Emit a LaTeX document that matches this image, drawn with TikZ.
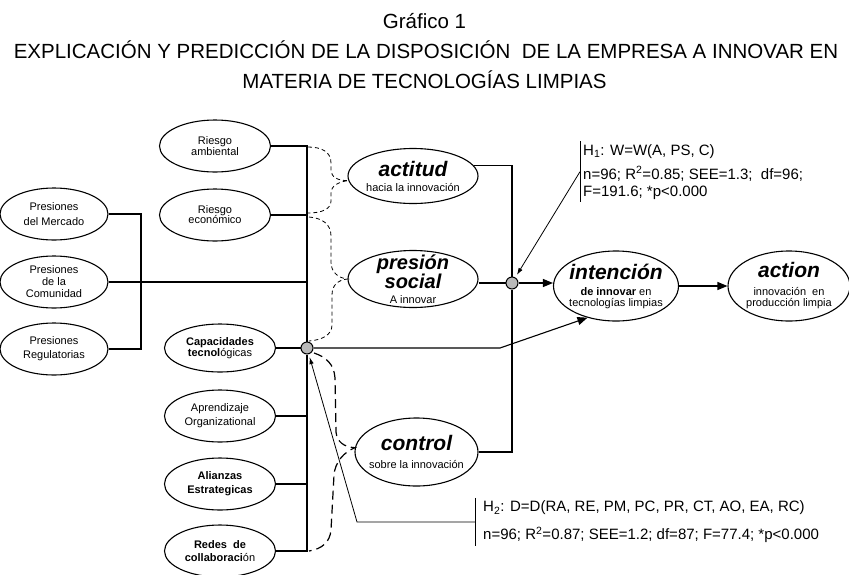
\documentclass[tikz,border=0pt]{standalone}
\usepackage{fontspec}
\setmainfont{Liberation Sans}
\usetikzlibrary{shapes.geometric,arrows.meta}

\newcommand{\concept}[1]{{\fontsize{21}{21}\selectfont\bfseries\itshape #1}}

\tikzset{
  factor/.style={ellipse,draw,line width=1.1pt,inner xsep=-8pt,inner ysep=-8pt,align=center,
    font={\fontsize{11}{12}\selectfont\lineskiplimit=-20pt},minimum width=111pt,minimum height=52pt},
  construct/.style={factor,inner xsep=-20pt,inner ysep=-10pt,minimum width=130pt,minimum height=56pt},
  junction/.style={circle,draw,fill=gray!55,line width=1pt,minimum size=12pt,inner sep=0pt},
  wire/.style={line width=1.1pt},
  flow/.style={->,>={Triangle[length=10pt,width=8pt]},line width=1.1pt},
  link/.style={->,>={Latex[length=7pt,width=4.5pt]},line width=.8pt,shorten >=3pt},
  brace/.style={dash pattern=on 4pt off 3pt,line width=.8pt},
  longbrace/.style={dash pattern=on 9pt off 5pt,line width=1.2pt},
  stats/.style={align=left,inner xsep=3pt,inner ysep=3pt,anchor=north west,
    font={\fontsize{15}{17}\selectfont\lineskiplimit=-20pt}},
  heading/.style={anchor=base,inner sep=0pt,font=\fontsize{20.5}{24}\selectfont},
}

\begin{document}
\begin{tikzpicture}[x=1pt,y=-1pt]
\useasboundingbox (0,0) rectangle (849,574);

% title
\draw(424.5,28) node[heading](t1){Gráfico 1};
\draw(426,58) node[heading](t2){EXPLICACIÓN Y PREDICCIÓN DE LA DISPOSICIÓN\ \ DE LA EMPRESA A INNOVAR EN};
\draw(424.5,88) node[heading](t3){MATERIA DE TECNOLOGÍAS LIMPIAS};

% determinants
\draw(215,146) node[factor](1){Riesgo\\[-1pt]ambiental};
\draw(215,215) node[factor](2){Riesgo\\[-2pt]económico};
\draw(54,214) node[factor,minimum width=108pt](3){Presiones\\[3pt]del Mercado};
\draw(54,282) node[factor,minimum width=108pt](4){Presiones\\de la\\Comunidad};
\draw(54,349) node[factor,minimum width=108pt](5){Presiones\\[2pt]Regulatorias};
\draw(220,348) node[factor,minimum height=48pt](6){\textbf{Capacidades}\\[-1pt]\textbf{tecnol}ógicas};
\draw(220,416) node[factor](7){Aprendizaje\\[2pt]Organizational};
\draw(220,484) node[factor](8){\textbf{Alianzas}\\[2pt]\textbf{Estrategicas}};
\draw(220,551) node[factor](9){\textbf{Redes~ de}\\[1pt]\textbf{collaboraci}ón};

% constructs
\draw(413,176) node[construct,minimum height=55pt](10){\concept{actitud}\\[3pt]hacia la innovación};
\draw(413,279) node[construct,minimum height=57pt](11){{\fontsize{20}{20}\selectfont\bfseries\itshape presión}\\[7pt]{\fontsize{20}{20}\selectfont\bfseries\itshape social}\\[3pt]A innovar};
\draw(416.5,452) node[construct,minimum width=123pt,minimum height=68pt](12){\concept{control}\\[6pt]sobre la innovación};
\draw(616,286) node[construct,minimum width=125pt,minimum height=70pt](13){\concept{intención}\\[4pt]\textbf{de innovar} en\\[-1pt]tecnologías limpias};
\draw(789,286) node[construct,minimum width=122pt,minimum height=70pt](14){\concept{action}\\[6pt]innovación~ en\\[-1pt]producción limpia};

% junctions
\draw(307,348) node[junction](15){};
\draw(512,283) node[junction](16){};
\coordinate (19) at (357,522);
\coordinate (20) at (141,282);
\coordinate (21) at (500,348);

% regressions
\draw(580,141) node[stats](17){H\textsubscript{1}: W=W(A, PS, C)\\[7pt]n=96; R\textsuperscript{2}=0.85; SEE=1.3;~ df=96;\\F=191.6; *p<0.000};
\draw(475,522) node[stats,anchor=west,inner xsep=8pt](18){H\textsubscript{2}: D=D(RA, RE, PM, PC, PR, CT, AO, EA, RC)\\[11pt]n=96; R\textsuperscript{2}=0.87; SEE=1.2; df=87; F=77.4; *p<0.000};
\draw[wire,line width=.9pt] (17.north west) -- (17.south west);
\draw[wire,line width=.9pt] (18.north west) -- (18.south west);

% wiring
\draw[wire] (3.east) -| (20) |- (5.east);
\draw[wire] (1.east) -| (15.north);
\draw[wire] (2.east) -- (2.east -| 15);
\draw[wire] (4.east) -- (4.east -| 15);
\draw[wire] (6.east) -- (15.west);
\draw[wire] (7.east) -- (7.east -| 15);
\draw[wire] (8.east) -- (8.east -| 15);
\draw[wire] (9.east) -| (15.south);
\draw[wire] (10.10) -| (16.north);
\draw[wire] (12.east) -| (16.south);
\draw[wire] (11.east |- 16) -- (16.west);

\draw[flow] (16.east) -- (16 -| 13.west);
\draw[flow] (13.east) -- (14.west);
\draw[flow] (15.east) -- (21) -- (13.228);
\draw[link] (17.west) -- (16.59);
\draw[link] (18.west) -- (19) -- (15.-74);

% braces
\draw[brace] (308,147) .. controls (322,147) and (331,152) .. (331,163) -- (331,170) .. controls (331,177) and (338,181) .. (10.184) .. controls (338,182) and (331,186) .. (331,193) -- (331,201) .. controls (331,209) and (322,213) .. (308,213);
\draw[brace] (309,217) .. controls (322,218) and (331,224) .. (331,236) -- (331,262) .. controls (331,272) and (338,278) .. (11.west) .. controls (338,280) and (332,285) .. (332,295) -- (332,325) .. controls (332,335) and (322,340) .. (309,341);
\draw[longbrace] (314,353) .. controls (326,357) and (334,364) .. (335,378) -- (336,432) .. controls (337,442) and (344,447) .. (12.176) .. controls (344,452) and (335,462) .. (334,475) -- (331,530) .. controls (330,542) and (322,549) .. (309,551);

\end{tikzpicture}
\end{document}
